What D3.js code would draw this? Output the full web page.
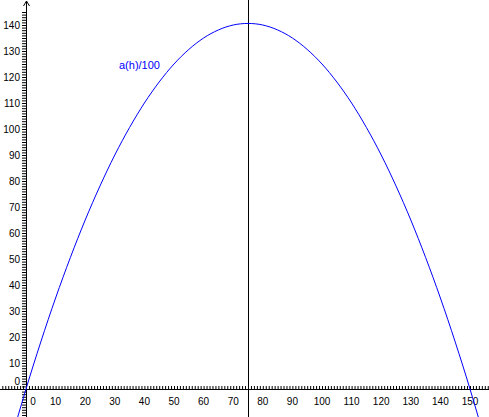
<!DOCTYPE html>
<html>
<head>
<meta charset="utf-8">
<script src="https://cdn.jsdelivr.net/npm/d3@7"></script>
<style>
  body { margin: 0; background: #fff; }
  svg { display: block; font-family: "Liberation Sans", Arial, sans-serif; }
</style>
</head>
<body>
<div id="chart"></div>
<script>
// values: h and a(h)/100, every 5 units of h
const hValues = [-5, 0, 5, 10, 15, 20, 25, 30, 35, 40, 45, 50, 55, 60, 65, 70, 75,
                 80, 85, 90, 95, 100, 105, 110, 115, 120, 125, 130, 135, 140, 145, 150, 155];
const aValues = [-19.4, 0, 18.1, 35, 50.6, 65, 78.1, 90, 100.6, 110, 118.1, 125, 130.6, 135, 138.1, 140, 140.6,
                 140, 138.1, 135, 130.6, 125, 118.1, 110, 100.6, 90, 78.1, 65, 50.6, 35, 18.1, 0, -19.4];
const xTickLabels = [0, 10, 20, 30, 40, 50, 60, 70, 80, 90, 100, 110, 120, 130, 140, 150];
const yTickLabels = [0, 10, 20, 30, 40, 50, 60, 70, 80, 90, 100, 110, 120, 130, 140];
const markerH = 75;
const curveLabel = "a(h)/100";

const width = 489, height = 417;
const svg = d3.select("#chart").append("svg")
    .attr("width", width)
    .attr("height", height);

const x = d3.scaleLinear().domain([0, 150]).range([26, 470]);
const y = d3.scaleLinear().domain([0, 140]).range([389, 25]);

// minor ticks every unit
const xMinor = d3.range(-8, 157, 1);
const yMinor = d3.range(-10, 146, 1);

svg.append("g")
    .attr("transform", `translate(0,${y(0)})`)
    .call(d3.axisTop(x).tickValues(xMinor).tickSize(3).tickFormat(""))
    .call(g => g.select(".domain").remove());

svg.append("g")
    .attr("transform", `translate(${x(0)},0)`)
    .call(d3.axisLeft(y).tickValues(yMinor).tickSize(4).tickFormat(""))
    .call(g => g.select(".domain").remove());

// axis lines
svg.append("line")
    .attr("x1", 0).attr("x2", width)
    .attr("y1", y(0) + 0.5).attr("y2", y(0) + 0.5)
    .attr("stroke", "#000");
svg.append("line")
    .attr("x1", x(0) + 0.5).attr("x2", x(0) + 0.5)
    .attr("y1", 1).attr("y2", height)
    .attr("stroke", "#000");
// arrow on y axis
svg.append("path")
    .attr("d", `M${x(0) - 2.5},6 L${x(0) + 0.5},1 L${x(0) + 3.5},6`)
    .attr("fill", "none")
    .attr("stroke", "#000");

// tick labels
svg.append("g").selectAll("text")
    .data(xTickLabels)
    .join("text")
    .attr("x", d => d === 0 ? x(0) + 7 : x(d))
    .attr("y", y(0) + 16)
    .attr("text-anchor", "middle")
    .attr("font-size", 10)
    .text(d => d);

svg.append("g").selectAll("text")
    .data(yTickLabels)
    .join("text")
    .attr("x", x(0) - 6)
    .attr("y", d => d === 0 ? y(0) - 4 : y(d) + 3.5)
    .attr("text-anchor", "end")
    .attr("font-size", 10)
    .text(d => d);

// vertical marker
svg.append("line")
    .attr("x1", Math.round(x(markerH)) + 0.5).attr("x2", Math.round(x(markerH)) + 0.5)
    .attr("y1", 0).attr("y2", height)
    .attr("stroke", "#000");

// curve
const pts = hValues.map((h, i) => [h, aValues[i]]);
svg.append("path")
    .datum(pts)
    .attr("fill", "none")
    .attr("stroke", "#0000ff")
    .attr("stroke-width", 1)
    .attr("d", d3.line().x(d => x(d[0])).y(d => y(d[1])).curve(d3.curveNatural));

svg.append("text")
    .attr("x", 119)
    .attr("y", 69)
    .attr("fill", "#0000ff")
    .attr("font-size", 11)
    .text(curveLabel);
</script>
</body>
</html>
